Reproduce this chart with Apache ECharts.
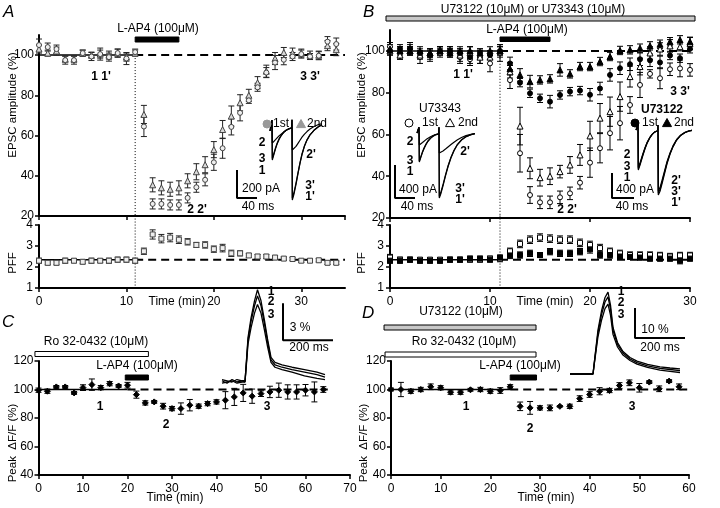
<!DOCTYPE html>
<html><head><meta charset="utf-8">
<script src="https://cdn.jsdelivr.net/npm/echarts@6/dist/echarts.min.js"></script>
<style>html,body{margin:0;padding:0;background:#fff}#c{width:720px;height:508px}</style>
</head><body><div id="c"></div>
<script>
// ---------- DATA ----------
// Panel A (EPSC amplitude %, 1st & 2nd, PFF)
const timesA = [0,1,2,3,4,5,6,7,8,9,10,11,12,13,14,15,16,17,18,19,20,21,22,23,24,25,26,27,28,29,30,31,32,33,34];
const a1st = [105,104,103,97.5,97.5,101,99.3,100.5,99,101,98.3,101.5,64.5,26,26,25.5,25.5,29,34.3,38,46.7,53.7,64.3,71.3,77.5,84,91.3,96.3,97.7,99.3,100.5,99.3,99.7,106.7,105.5];
const a1stErr = [3,2,2,2,2,1.5,2,3,2,2,3,1.5,5,2.5,2.5,2.5,2.5,2.5,2.5,3,4,5,4,4,1.5,2,2.5,3.5,2.5,2,2,1.5,2,2.5,3];
const a2nd = [103,101,102,98,98,101,100,100.5,100,101,99,101,70.5,35.5,34,33.3,34,37.5,42,45.5,53,63,69.7,76.3,80,86.3,92,98.3,101.3,101,101,100,100,104.7,102.7];
const a2ndErr = [2,1.5,2,1.5,1.5,1.5,1.5,2,2,2,2,1.5,4.5,3.5,3.5,3.5,3.5,3.5,4,4,4,4.5,5,4,3,3,3,3,2.5,2.5,2,2,2,2.5,3];
const pffA = [2.3,2.2,2.2,2.3,2.3,2.25,2.3,2.3,2.3,2.35,2.35,2.3,2.75,3.55,3.35,3.4,3.3,3.2,3.05,3.05,2.85,2.9,2.65,2.65,2.55,2.5,2.5,2.45,2.4,2.38,2.3,2.3,2.32,2.2,2.2];
const pffAErr = [0.12,0.1,0.1,0.12,0.1,0.1,0.12,0.1,0.12,0.12,0.12,0.12,0.15,0.22,0.2,0.2,0.18,0.15,0.12,0.15,0.15,0.18,0.15,0.12,0.1,0.1,0.1,0.1,0.08,0.08,0.08,0.08,0.08,0.08,0.08];

// Panel B (U73343 open, U73122 filled)
const timesB = [0,1,2,3,4,5,6,7,8,9,10,11,12,13,14,15,16,17,18,19,20,21,22,23,24,25,26,27,28,29,30];
const u43First = [102,99,101,97,98,99,99,97,96,97,94,99,86,51,31,27.5,27.5,29.9,31.8,36.9,46.5,53.4,60.6,65.4,74.1,83.7,89,86.9,91.2,91.6,90.9];
const u43FirstErr = [2,3,3,3,3,2,2,3,3,3,4,4,4,9,4,3,3,3,3,3,7,7,8,8,4,6,2,5,3,4,3];
const u43Second = [100,98,100,98,99,100,100,98,99,97,97,100,90,64,43.8,39.3,40,42.2,45.4,50.2,59.3,67.8,70.9,78.1,87.7,92.5,99,100.9,102.4,102,103.6];
const u43SecondErr = [2,2,2,2,2,2,2,3,3,3,3,3,3,9,5,4,4,3,4,5,7,7,7,7,5,4,3,3,3,2,3];
const u22First = [100,101,101,99,98,100,100,99,97,99,98,100,94,84.8,79.7,77.3,75.7,78.9,80.5,81,79,82,88.5,91.7,93.6,96,95.5,94.5,97.8,96.5,101];
const u22FirstErr = [2,2,2,2,2,2,2,2,3,2,2,2,3,2,2,2,3,2,2,2,3,3,3,3,3,3,3,3,2,2,2];
const u22Second = [101,100,100,100,99,100,99,100,100,99,100,100,91.5,88.5,85.3,86.1,86.6,90.9,89,92.5,92.5,94.9,97.3,100.2,100.5,101.3,102.4,103.2,104.4,105.3,104.4];
const u22SecondErr = [2,2,2,2,2,2,2,2,2,2,2,2,3,3,3,2,2,3,2,2,2,2,2,2,2,2,2,2,2,2,2];
const pffU43 = [2.45,2.35,2.35,2.35,2.35,2.35,2.35,2.35,2.35,2.35,2.4,2.4,2.75,3.1,3.3,3.4,3.35,3.3,3.3,3.15,3.05,2.9,2.75,2.65,2.57,2.57,2.57,2.55,2.5,2.55,2.55];
const pffU43Err = [0.15,0.12,0.1,0.1,0.1,0.1,0.1,0.1,0.12,0.12,0.12,0.15,0.15,0.18,0.18,0.18,0.18,0.18,0.18,0.18,0.18,0.18,0.15,0.15,0.15,0.15,0.15,0.15,0.15,0.15,0.15];
const pffU22 = [2.3,2.3,2.35,2.3,2.3,2.3,2.35,2.35,2.4,2.4,2.35,2.45,2.55,2.57,2.65,2.57,2.73,2.65,2.65,2.73,2.84,2.57,2.57,2.5,2.48,2.45,2.4,2.4,2.4,2.3,2.4];
const pffU22Err = [0.12,0.12,0.12,0.12,0.12,0.12,0.12,0.12,0.12,0.12,0.12,0.12,0.15,0.15,0.15,0.12,0.15,0.15,0.15,0.15,0.18,0.15,0.15,0.12,0.12,0.12,0.12,0.12,0.12,0.15,0.12];

// Panel C (Ro 32-0432)
const timesC = [0,2,4,6,8,10,12,14,16,18,20,22,24,26,28,30,32,34,36,38,40,42,44,46,48,50,52,54,56,58,60,62,64];
const peakC = [99.5,98.8,101.8,101.8,97.6,101.3,103.4,101.3,104.1,102.5,103,96.4,90.6,91.3,88.3,86.6,86.6,89,88.3,90.1,91.3,92.5,94.8,97.6,95.3,97.1,98.3,99.5,98.3,98.3,99.5,98.3,100];
const peakCErr = [1.5,1.5,1,1,1,2,4,1.5,1.5,1,2,2.5,1.5,1,2,1.5,4,4,1.5,1.5,1.5,6,6,6,5,2,4,5,5,5,4,7,2];

// Panel D (U73122 + Ro 32-0432)
const timesD = [0,2,4,6,8,10,12,14,16,18,20,22,24,26,28,30,32,34,36,38,40,42,44,46,48,50,52,54,56,58];
const peakD = [100,100,98.8,100,101.9,101.2,98.1,98.1,99.8,100,98.8,99.3,101.9,88.2,87.1,87.1,87.1,88.2,88.2,93.6,96.5,98.8,99.3,102.8,104.7,101.2,105.2,100.5,105.9,101.9];
const peakDErr = [1,5,1.5,1.5,2,1.5,1.5,1.5,1,1.5,1.5,2,1.5,3,4.5,1.5,2,0.5,1.5,2,2,2.5,1.5,2,2,3,1,2,1,2];

// Drug application windows (min)
const drugA_LAP4 = [11, 16];
const drugB_U = [-0.4, 30.5];
const drugB_LAP4 = [11, 16];
const drugC_Ro = [-0.8, 24.7];
const drugC_LAP4 = [19.5, 24.7];
const drugD_U = [-1.4, 29.2];
const drugD_Ro = [-1.2, 29.2];
const drugD_LAP4 = [24, 29.3];

// Reference lines
const baseA = [0, 11], dashA = [11, 35], levelA = 100, pffLevelA = 2.35;
const baseB = [0, 11], dashB = [11, 30], levelB = 100, pffLevelB = 2.35;
const baseC = [0, 20], dashC = [20, 65];
const baseD = [0, 24], dashD = [24, 60];
const washInTime = 11;

// Inset traces A (ms, pA)
const traceTimeA = [-4,0,0.6,2,4,7,10,14,18,23,28,33,39.4,40,40.6,44,48,52,56,60,65,70,76,84,92,100];
const traceA1 = [0,78,-207,-190,-165,-128,-95,-60,-35,-12,5,15,22,80,-493,-450,-382,-305,-232,-168,-108,-65,-28,5,28,45];
const traceA2 = [0,78,-86,-82,-74,-62,-50,-35,-22,-8,4,14,20,80,-136,-128,-110,-88,-66,-44,-22,-4,14,32,45,52];
const traceA3 = [0,78,-197,-181,-157,-121,-90,-57,-33,-11,5,15,22,80,-480,-438,-372,-297,-226,-164,-105,-63,-27,5,28,45];
const scaleA_t = [-70,-70,-30], scaleA_v = [-279,-479,-479];

// Inset traces B (U73343)
const traceTimeB = [-4,0,0.6,2,4,7,10,14,18,23,28,33,39.4,40,40.6,44,48,53,58,64,70,77,85,94,104,112];
const traceU43_1 = [0,70,-352,-330,-290,-235,-190,-140,-100,-65,-40,-22,-10,70,-788,-730,-640,-520,-410,-300,-215,-140,-85,-45,-20,-8];
const traceU43_2 = [0,70,-145,-140,-130,-115,-100,-80,-62,-45,-30,-18,-10,70,-242,-235,-218,-195,-170,-140,-112,-82,-55,-32,-15,-6];
const traceU43_3 = [0,70,-340,-318,-280,-227,-183,-135,-96,-62,-38,-21,-10,70,-770,-712,-625,-508,-400,-293,-210,-137,-83,-44,-20,-8];
const scaleU43_t = [-48,-48,-8], scaleU43_v = [-388,-788,-788];

// Inset traces B (U73122)
const traceTimeB2 = [-4,0,0.6,2,4,7,10,14,18,23,28,33,39.4,40,40.6,44,48,53,58,64,70,77,85,94,102,108];
const traceU22_1 = [0,80,-640,-610,-560,-480,-400,-300,-215,-135,-75,-35,-12,80,-1040,-980,-860,-700,-540,-390,-270,-165,-90,-40,-15,-5];
const traceU22_2 = [0,80,-620,-592,-543,-466,-388,-291,-209,-131,-73,-34,-12,80,-1010,-951,-834,-679,-524,-378,-262,-160,-87,-39,-15,-5];
const traceU22_3 = [0,80,-600,-573,-526,-451,-376,-282,-202,-127,-71,-33,-11,80,-980,-921,-808,-658,-508,-367,-254,-155,-85,-38,-14,-5];
const scaleU22_t = [-52,-52,-8], scaleU22_v = [-688,-1088,-1088];

// Inset Ca traces C (ms, %)
const traceTimeC = [0,20,40,60,80,92,98,104,116,130,142,156,170,182,196,212,240,280,330,380,412];
const traceC1 = [0.1,-0.1,0.2,0.0,0.1,0.0,1.8,3.6,5.2,6.6,7.5,6.6,5.0,3.5,2.0,1.6,1.4,1.2,1.0,0.8,0.6];
const traceC2 = [0.2,0.1,0.0,0.2,0.1,0.1,1.7,3.4,4.9,6.2,7.0,6.2,4.7,3.3,1.8,1.4,1.2,1.0,0.8,0.6,0.4];
const traceC3 = [-0.1,0.0,0.1,-0.1,0.0,0.0,1.5,3.1,4.4,5.6,6.3,5.6,4.2,2.9,1.6,1.2,1.0,0.8,0.5,0.3,0.2];
const scaleC_t = [244,244,444], scaleC_v = [6.4,3.4,3.4];

// Inset Ca traces D
const traceTimeD = [0,30,60,92,100,112,126,140,152,162,172,190,212,240,268,310,360,400,440];
const traceD1 = [0,0,0,0,6,14.7,21,25.5,27.3,23,15.5,10.5,7.5,5.5,4.3,3.2,2.4,2.0,1.7];
const traceD2 = [0,0,0,0,5.6,13.8,19.7,24,25.7,21.6,14.6,9.9,7.0,5.0,3.8,2.7,1.9,1.5,1.1];
const traceD3 = [0,0,0,0,5.1,12.5,17.9,21.8,23.3,19.6,13.2,9.0,6.3,4.5,3.3,2.2,1.3,0.9,0.5];
const scaleD_t = [260,260,460], scaleD_v = [22,12,12];

// ---------- CHART ----------
const FONT = '"Liberation Sans", Arial, sans-serif';
const zip = (xs, ys) => xs.map((x, i) => [x, ys[i]]);
const zip3 = (xs, ys, es) => xs.map((x, i) => [x, ys[i], es[i]]);

const grids = [
  {left:39, top:35, width:306, height:181},     // 0 A top
  {left:39, top:225, width:306, height:63},     // 1 A PFF
  {left:390, top:30, width:300, height:188},    // 2 B top
  {left:390, top:225, width:300, height:63},    // 3 B PFF
  {left:38.5, top:361, width:311.5, height:114},// 4 C
  {left:391, top:361, width:298, height:114},   // 5 D
  {left:234.5, top:124, width:90, height:91},   // 6 A inset
  {left:394, top:126.4, width:90, height:76.7}, // 7 U73343 inset
  {left:610.5, top:123.75, width:87.5, height:75}, // 8 U73122 inset
  {left:222, top:283.6, width:112.5, height:110.7},// 9 C inset
  {left:570, top:284, width:117.5, height:96}   // 10 D inset
];

function valAxis(g, min, max, interval, showLabel, showMax, margin) {
  return {type:'value', gridIndex:g, min, max, interval,
    axisLine:{show:true, onZero:false, lineStyle:{color:'#000', width:2}},
    axisTick:{show:true, length:4, lineStyle:{color:'#000', width:1.5}},
    axisLabel:{show:showLabel, color:'#000', fontSize:12, fontFamily:FONT, margin:margin, showMaxLabel:showMax},
    splitLine:{show:false}};
}
function hidAxis(g, min, max) {
  return {type:'value', gridIndex:g, min, max, show:false, splitLine:{show:false}};
}
const xAxes = [
  valAxis(0, 0, 35, 10, false, false, 8),
  valAxis(1, 0, 35, 10, true, false, 8),
  valAxis(2, 0, 30, 10, false, true, 8),
  valAxis(3, 0, 30, 10, true, true, 8),
  valAxis(4, 0, 70, 10, true, true, 8),
  valAxis(5, 0, 60, 10, true, true, 8),
  hidAxis(6, -75, 105), hidAxis(7, -50, 130), hidAxis(8, -55, 120),
  hidAxis(9, 0, 450), hidAxis(10, 0, 470)
];
const yAxes = [
  valAxis(0, 20, 110, 20, true, false, 5),
  valAxis(1, 1, 4, 1, true, true, 6),
  valAxis(2, 20, 110, 20, true, false, 5),
  valAxis(3, 1, 4, 1, true, true, 6),
  valAxis(4, 40, 120, 20, true, true, 5),
  valAxis(5, 40, 120, 20, true, true, 5),
  hidAxis(6, -600, 50), hidAxis(7, -850, 80), hidAxis(8, -1100, 100),
  hidAxis(9, -1, 8), hidAxis(10, -2, 30)
];

function errSeries(g, xs, ys, es, color) {
  return {type:'custom', xAxisIndex:g, yAxisIndex:g, z:2, silent:true, clip:false,
    data: zip3(xs, ys, es), encode:{x:0, y:1},
    renderItem: function (params, api) {
      const x = api.value(0), y = api.value(1), e = api.value(2);
      const p1 = api.coord([x, y + e]), p2 = api.coord([x, y - e]);
      const w = 3, st = {stroke: color, lineWidth: 1};
      return {type:'group', children:[
        {type:'line', shape:{x1:p1[0], y1:p1[1], x2:p2[0], y2:p2[1]}, style:st},
        {type:'line', shape:{x1:p1[0]-w, y1:p1[1], x2:p1[0]+w, y2:p1[1]}, style:st},
        {type:'line', shape:{x1:p2[0]-w, y1:p2[1], x2:p2[0]+w, y2:p2[1]}, style:st}
      ]};
    }};
}
function markSeries(g, xs, ys, symbol, size, fill, stroke) {
  return {type:'scatter', xAxisIndex:g, yAxisIndex:g, z:3, silent:true, data: zip(xs, ys),
    symbol, symbolSize:size, itemStyle:{color:fill, borderColor:stroke, borderWidth:1, opacity:1}};
}
function lineSeries(g, xs, ys, width, type, color, z) {
  return {type:'line', xAxisIndex:g, yAxisIndex:g, z: z || 1, silent:true, clip:false, data: zip(xs, ys),
    symbol:'none', animation:false, lineStyle:{color: color || '#000', width, type: type || 'solid'}};
}
function refLine(g, span, level, width, type) {
  return lineSeries(g, span, [level, level], width, type, '#000', 1);
}

const dashT = [8, 5], dotT = [1, 2];
const series = [];
// A top
series.push(refLine(0, baseA, levelA, 1.5, 'solid'));
series.push(refLine(0, dashA, levelA, 2, dashT));
series.push(lineSeries(0, [washInTime, washInTime], [103, 20], 1, dotT, '#000'));
series.push(errSeries(0, timesA, a2nd, a2ndErr, '#222'));
series.push(errSeries(0, timesA, a1st, a1stErr, '#222'));
series.push(markSeries(0, timesA, a2nd, 'triangle', 6, '#d9d9d9', '#444'));
series.push(markSeries(0, timesA, a1st, 'circle', 5, '#eeeeee', '#444'));
// A PFF
series.push(refLine(1, baseA, pffLevelA, 1.5, 'solid'));
series.push(refLine(1, dashA, pffLevelA, 2, dashT));
series.push(lineSeries(1, [washInTime, washInTime], [4.45, 1], 1, dotT, '#000'));
series.push(errSeries(1, timesA, pffA, pffAErr, '#222'));
series.push(markSeries(1, timesA, pffA, 'rect', 5, '#eeeeee', '#444'));
// B top
series.push(refLine(2, baseB, levelB, 1.5, 'solid'));
series.push(refLine(2, dashB, levelB, 2, dashT));
series.push(lineSeries(2, [washInTime, washInTime], [101, 20], 1, dotT, '#000'));
series.push(errSeries(2, timesB, u43First, u43FirstErr, '#000'));
series.push(errSeries(2, timesB, u43Second, u43SecondErr, '#000'));
series.push(errSeries(2, timesB, u22First, u22FirstErr, '#000'));
series.push(errSeries(2, timesB, u22Second, u22SecondErr, '#000'));
series.push(markSeries(2, timesB, u43First, 'circle', 5, '#fff', '#000'));
series.push(markSeries(2, timesB, u43Second, 'triangle', 6, '#fff', '#000'));
series.push(markSeries(2, timesB, u22First, 'circle', 5, '#000', '#000'));
series.push(markSeries(2, timesB, u22Second, 'triangle', 6, '#000', '#000'));
// B PFF
series.push(refLine(3, baseB, pffLevelB, 1.5, 'solid'));
series.push(refLine(3, dashB, pffLevelB, 2, dashT));
series.push(lineSeries(3, [washInTime, washInTime], [4.45, 1], 1, dotT, '#000'));
series.push(errSeries(3, timesB, pffU43, pffU43Err, '#000'));
series.push(errSeries(3, timesB, pffU22, pffU22Err, '#000'));
series.push(markSeries(3, timesB, pffU43, 'rect', 5, '#fff', '#000'));
series.push(markSeries(3, timesB, pffU22, 'rect', 5, '#000', '#000'));
// C
series.push(refLine(4, baseC, 100, 1.5, 'solid'));
series.push(refLine(4, dashC, 100, 2, dashT));
series.push(errSeries(4, timesC, peakC, peakCErr, '#000'));
series.push(markSeries(4, timesC, peakC, 'diamond', 6, '#000', '#000'));
// D
series.push(refLine(5, baseD, 100, 1.5, 'solid'));
series.push(refLine(5, dashD, 100, 2, dashT));
series.push(errSeries(5, timesD, peakD, peakDErr, '#000'));
series.push(markSeries(5, timesD, peakD, 'diamond', 6, '#000', '#000'));
// Insets
[traceA1, traceA2, traceA3].forEach(v => series.push(lineSeries(6, traceTimeA, v, 1.2)));
series.push(lineSeries(6, scaleA_t, scaleA_v, 2));
[traceU43_1, traceU43_2, traceU43_3].forEach(v => series.push(lineSeries(7, traceTimeB, v, 1.2)));
series.push(lineSeries(7, scaleU43_t, scaleU43_v, 2));
[traceU22_1, traceU22_2, traceU22_3].forEach(v => series.push(lineSeries(8, traceTimeB2, v, 1.2)));
series.push(lineSeries(8, scaleU22_t, scaleU22_v, 2));
[traceC1, traceC2, traceC3].forEach(v => series.push(lineSeries(9, traceTimeC, v, 1.3)));
series.push(lineSeries(9, scaleC_t, scaleC_v, 2));
[traceD1, traceD2, traceD3].forEach(v => series.push(lineSeries(10, traceTimeD, v, 1.3)));
series.push(lineSeries(10, scaleD_t, scaleD_v, 2));

const chart = echarts.init(document.getElementById('c'), null, {renderer:'canvas'});
chart.setOption({animation:false, backgroundColor:'#fff', grid:grids, xAxis:xAxes, yAxis:yAxes, series});

// ---------- ANNOTATIONS ----------
function T(text, x, y, o) {
  o = o || {};
  const al = o.align || 'center';
  return {type:'text', x, y, rotation:o.rot || 0, z:100, silent:true,
    style:{text, fill:'#000', font:(o.italic ? 'italic ' : '') + (o.bold ? 'bold ' : '') + (o.size || 12) + 'px ' + FONT,
      align:al, verticalAlign:'middle', textAlign:al, textVerticalAlign:'middle'}};
}
function bar(g, span, y, h, fill) {
  const x1 = chart.convertToPixel({xAxisIndex:g}, span[0]);
  const x2 = chart.convertToPixel({xAxisIndex:g}, span[1]);
  return {type:'rect', z:100, silent:true, shape:{x:x1, y, width:x2 - x1, height:h},
    style:{fill, stroke:'#000', lineWidth:1}};
}
function circ(cx, cy, r, fill, stroke) {
  return {type:'circle', z:100, silent:true, shape:{cx, cy, r}, style:{fill, stroke: stroke || fill, lineWidth:1}};
}
function tri(cx, cy, s, fill, stroke) {
  return {type:'polygon', z:100, silent:true, shape:{points:[[cx, cy - s], [cx + s, cy + s * 0.8], [cx - s, cy + s * 0.8]]},
    style:{fill, stroke: stroke || fill, lineWidth:1}};
}
const R = Math.PI / 2;
const g = [];
// panel letters
g.push(T('A', 3, 12, {italic:true, size:17, align:'left'}));
g.push(T('B', 363, 12, {italic:true, size:17, align:'left'}));
g.push(T('C', 2, 322, {italic:true, size:17, align:'left'}));
g.push(T('D', 362, 313, {italic:true, size:17, align:'left'}));
// axis titles
g.push(T('EPSC amplitude (%)', 13, 105, {rot:R, size:11.5}));
g.push(T('PFF', 13, 263, {rot:R, size:11.5}));
g.push(T('EPSC amplitude (%)', 362, 105, {rot:R, size:11.5}));
g.push(T('PFF', 362, 263, {rot:R, size:11.5}));
g.push(T('Peak  \u0394F/F (%)', 13, 443, {rot:R, size:11.5}));
g.push(T('Peak  \u0394F/F (%)', 364, 443, {rot:R, size:11.5}));
g.push(T('Time (min)', 177, 302));
g.push(T('Time (min)', 545, 302));
g.push(T('Time (min)', 175, 498));
g.push(T('Time (min)', 546, 498));
// drug bars
g.push(bar(0, drugA_LAP4, 37, 5, '#000'));
g.push(T('L-AP4 (100\u03bcM)', 158, 29));
g.push(bar(2, drugB_U, 16, 5, '#c8c8c8'));
g.push(T('U73122 (10\u03bcM) or U73343 (10\u03bcM)', 533, 10));
g.push(bar(2, drugB_LAP4, 37, 4.5, '#000'));
g.push(T('L-AP4 (100\u03bcM)', 527, 30));
g.push(bar(4, drugC_Ro, 351.5, 5, '#fff'));
g.push(T('Ro 32-0432 (10\u03bcM)', 96, 342));
g.push(bar(4, drugC_LAP4, 375, 5, '#000'));
g.push(T('L-AP4 (100\u03bcM)', 137, 366));
g.push(bar(5, drugD_U, 325, 5, '#c8c8c8'));
g.push(T('U73122 (10\u03bcM)', 461, 312));
g.push(bar(5, drugD_Ro, 352, 5, '#fff'));
g.push(T('Ro 32-0432 (10\u03bcM)', 464, 342));
g.push(bar(5, drugD_LAP4, 375, 5, '#000'));
g.push(T('L-AP4 (100\u03bcM)', 520, 366));
// time-point labels
const B = {bold:true};
g.push(T("1 1'", 101, 77, B)); g.push(T("3 3'", 310, 77, B)); g.push(T("2 2'", 197, 210, B));
g.push(T("1 1'", 463, 75, B)); g.push(T("3 3'", 680, 92, B)); g.push(T("2 2'", 567, 210, B));
g.push(T('1', 100, 407, B)); g.push(T('2', 166, 425, B)); g.push(T('3', 267, 407, B));
g.push(T('1', 466, 407, B)); g.push(T('2', 530, 429, B)); g.push(T('3', 632, 407, B));
// inset A
g.push(circ(267, 124, 4, '#999')); g.push(T('1st', 273, 124, {align:'left'}));
g.push(tri(301, 124, 4.5, '#999')); g.push(T('2nd', 307, 124, {align:'left'}));
g.push(T('2', 262, 143, B)); g.push(T('3', 262, 159, B)); g.push(T('1', 262, 171, B));
g.push(T("2'", 311, 155, B)); g.push(T("3'", 310, 186, B)); g.push(T("1'", 310, 197, B));
g.push(T('200 pA', 242, 189, {align:'left'})); g.push(T('40 ms', 258, 207));
// inset U73343
g.push(T('U73343', 440, 109));
g.push(circ(409, 123, 4, '#fff', '#000')); g.push(T('1st', 422, 123, {align:'left'}));
g.push(tri(450, 123, 4.5, '#fff', '#000')); g.push(T('2nd', 458, 123, {align:'left'}));
g.push(T('2', 410, 142, B)); g.push(T('3', 410, 161, B)); g.push(T('1', 410, 172, B));
g.push(T("2'", 465, 152, B)); g.push(T("3'", 460, 189, B)); g.push(T("1'", 460, 200, B));
g.push(T('400 pA', 399, 190, {align:'left'})); g.push(T('40 ms', 417, 207));
// inset U73122
g.push(T('U73122', 662, 110, B));
g.push(circ(635, 123, 4, '#000')); g.push(T('1st', 642, 123, {align:'left'}));
g.push(tri(667, 123, 4.5, '#000')); g.push(T('2nd', 674, 123, {align:'left'}));
g.push(T('2', 627, 155, B)); g.push(T('3', 627, 167, B)); g.push(T('1', 627, 178, B));
g.push(T("2'", 676, 181, B)); g.push(T("3'", 676, 192, B)); g.push(T("1'", 676, 203, B));
g.push(T('400 pA', 616, 190, {align:'left'})); g.push(T('40 ms', 632, 207));
// inset C, D
g.push(T('1', 271, 292, B)); g.push(T('2', 271, 302, B)); g.push(T('3', 271, 315, B));
g.push(T('3 %', 300, 328)); g.push(T('200 ms', 309, 348));
g.push(T('1', 621, 292, B)); g.push(T('2', 621, 303, B)); g.push(T('3', 621, 315, B));
g.push(T('10 %', 655, 330)); g.push(T('200 ms', 660, 348));

chart.setOption({graphic:{elements:g}});
</script>
</body></html>
